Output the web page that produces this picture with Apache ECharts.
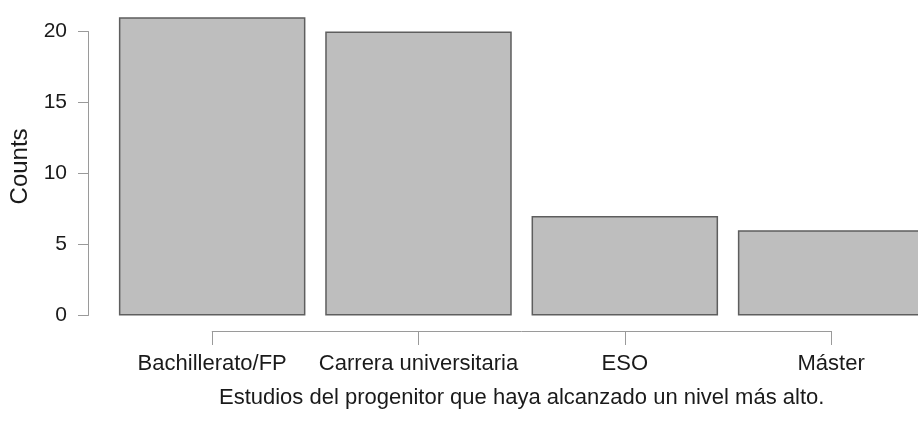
<!DOCTYPE html>
<html>
<head>
<meta charset="utf-8">
<script src="https://cdn.jsdelivr.net/npm/echarts@6/dist/echarts.min.js"></script>
<style>
html,body{margin:0;padding:0;background:#fff;}
#chart{width:918px;height:427px;}
</style>
</head>
<body>
<div id="chart"></div>
<script>
const categories = ["Bachillerato/FP", "Carrera universitaria", "ESO", "Máster"];
const counts = [21, 20, 7, 6];
const yTicks = [0, 5, 10, 15, 20];
const xTitle = "Estudios del progenitor que haya alcanzado un nivel más alto.";
const yTitle = "Counts";

const FONT = "'Liberation Sans', Arial, sans-serif";
const TXT = "#1a1a1a";
const AX = "#9a9a9a";

const chart = echarts.init(document.getElementById('chart'), null, {renderer: 'canvas'});
chart.setOption({
  animation: false,
  backgroundColor: '#fff',
  grid: [
    {left: 109, width: 825.3, top: 17.3, bottom: 111.5, outerBoundsMode: 'none', containLabel: false},
    {left: 88, width: 10, top: 31.5, bottom: 111.5, outerBoundsMode: 'none'},
    {left: 212.2, right: 86.9, top: 250, bottom: 96, outerBoundsMode: 'none'}
  ],
  xAxis: [
    {gridIndex: 0, type: 'category', data: categories, show: false},
    {gridIndex: 1, type: 'value', show: false},
    {gridIndex: 2, type: 'category', data: categories, boundaryGap: false,
     axisLine: {show: true, lineStyle: {color: AX, width: 1}},
     axisTick: {show: true, length: 14, alignWithLabel: true, lineStyle: {color: AX, width: 1}},
     axisLabel: {show: true, margin: 22, color: TXT, fontFamily: FONT, fontSize: 22, interval: 0},
     name: xTitle, nameLocation: 'middle', nameGap: 56,
     nameTextStyle: {color: TXT, fontFamily: FONT, fontSize: 22},
     splitLine: {show: false}}
  ],
  yAxis: [
    {gridIndex: 0, type: 'value', min: 0, max: 21, show: true,
     axisLine: {show: false}, axisTick: {show: false}, axisLabel: {show: false}, splitLine: {show: false},
     name: yTitle, nameLocation: 'middle', nameGap: 77,
     nameTextStyle: {color: TXT, fontFamily: FONT, fontSize: 24}},
    {gridIndex: 1, type: 'value', min: 0, max: 20, interval: 5,
     axisLine: {show: true, lineStyle: {color: AX, width: 1}},
     axisTick: {show: true, length: 10, lineStyle: {color: AX, width: 1}},
     axisLabel: {show: true, margin: 21, color: TXT, fontFamily: FONT, fontSize: 21,
       formatter: v => yTicks.includes(v) ? String(v) : ''},
     splitLine: {show: false}},
    {gridIndex: 2, type: 'value', show: false}
  ],
  series: [{
    type: 'bar',
    xAxisIndex: 0, yAxisIndex: 0,
    data: counts,
    barCategoryGap: '9.6%',
    itemStyle: {color: '#bebebe', borderColor: '#5e5e5e', borderWidth: 1.5}
  }]
});
</script>
</body>
</html>
